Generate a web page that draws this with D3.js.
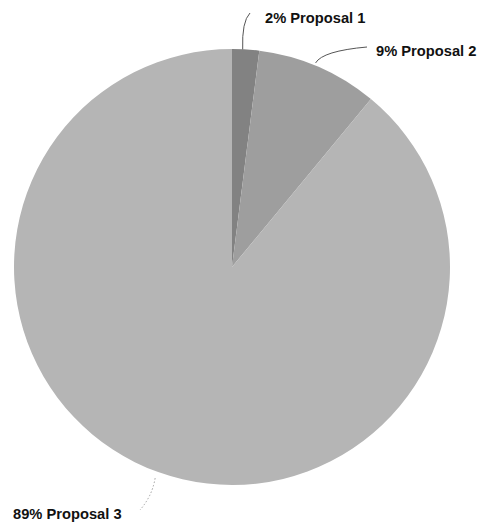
<!DOCTYPE html>
<html><head><meta charset="utf-8">
<script src="https://cdn.jsdelivr.net/npm/d3@7"></script>
<style>html,body{margin:0;padding:0;background:#fff}</style>
</head><body>
<svg id="c" width="479" height="527"></svg>
<script>
const categories = ["Proposal 1", "Proposal 2", "Proposal 3"];
const values = [2, 9, 89];
const labels = ["2% Proposal 1", "9% Proposal 2", "89% Proposal 3"];
const colors = ["#828282", "#9e9e9e", "#b5b5b5"];

const svg = d3.select("#c");
const cx = 232, cy = 267, R = 218;

const pie = d3.pie().sort(null).value(d => d)(values);
const arc = d3.arc().innerRadius(0).outerRadius(R);

const g = svg.append("g").attr("transform", `translate(${cx},${cy})`);
g.selectAll("path").data(pie).join("path")
  .attr("d", arc).attr("fill", (d,i) => colors[i]);

// label anchors (layout)
const labelPos = [{x:265, y:23, lx:250, ly:13}, {x:376, y:56, lx:367, ly:47}, {x:13, y:519, lx:140, ly:510}];

pie.forEach((d,i) => {
  const a = (d.startAngle + d.endAngle)/2;
  const sx = cx + R*Math.sin(a), sy = cy - R*Math.cos(a);
  const p = labelPos[i];
  let path;
  if (i === 0) path = `M${sx-3},${sy} Q${sx-4},${sy-28} ${p.lx},${p.ly}`;
  else if (i === 1) path = `M${sx-3},${sy-4} Q${sx+4},${sy-16} ${p.lx},${p.ly}`;
  else path = `M${sx-3},${sy+6} Q${sx-6},${sy+24} ${p.lx},${p.ly}`;
  svg.append("path").attr("d", path).attr("fill","none")
    .attr("stroke", i===2 ? "#a0a0a0" : "#555").attr("stroke-width", 1)
    .attr("stroke-dasharray", i===2 ? "1.5,2" : null);
  svg.append("text").attr("x", p.x).attr("y", p.y)
    .attr("font-family","Liberation Sans, Arial, sans-serif").attr("font-weight","bold")
    .attr("font-size", 14.7).attr("fill","#111").text(labels[i]);
});
</script>
</body></html>
